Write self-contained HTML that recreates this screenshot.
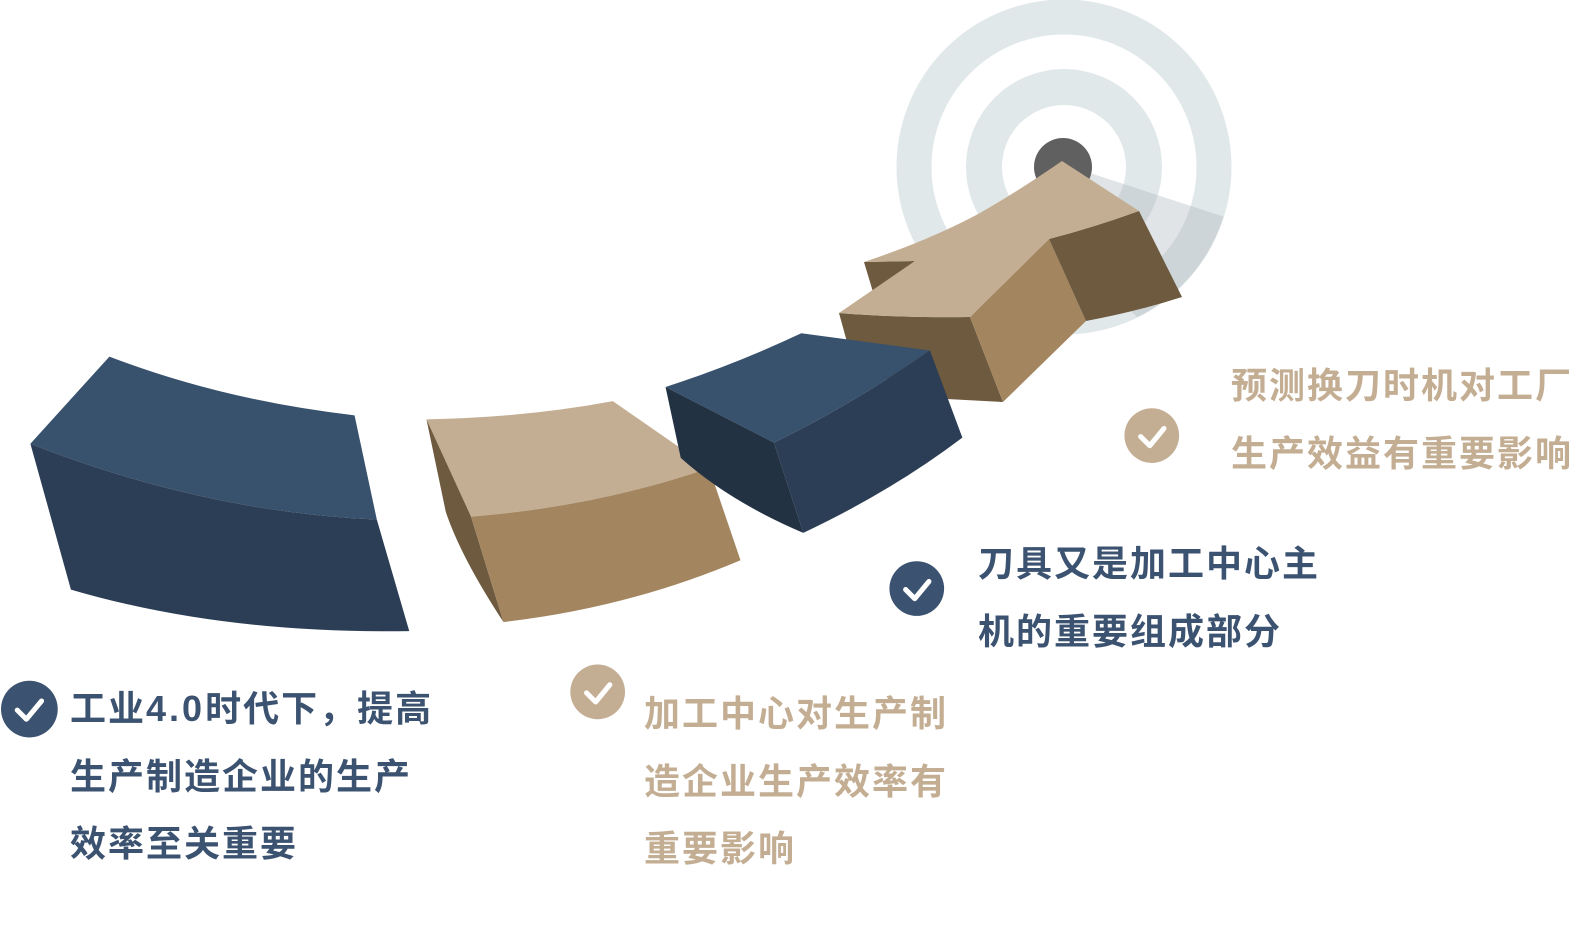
<!DOCTYPE html>
<html><head><meta charset="utf-8">
<style>
html,body{margin:0;padding:0;background:#fff;}
body{width:1587px;height:946px;position:relative;overflow:hidden;}
.t{position:absolute;font-family:"Liberation Sans","Noto Sans CJK SC",sans-serif;font-weight:bold;font-size:36px;line-height:67.5px;letter-spacing:2px;white-space:nowrap;}
.navy{color:#3b5270;}
.tan{color:#c4ae93;}
svg{position:absolute;left:0;top:0;}
</style></head>
<body>
<svg width="1587" height="946">
  <g>
    <circle cx="1064" cy="167" r="150" fill="none" stroke="#e1e8ea" stroke-width="35"/>
    <circle cx="1064" cy="167" r="80" fill="none" stroke="#e1e8ea" stroke-width="36"/>
    <clipPath id="cc"><circle cx="1064" cy="167" r="167"/></clipPath>
    <polygon points="1090,173 1240,222 1230,300 1150,330 1080,260" fill="#aab3b6" opacity="0.35" clip-path="url(#cc)"/>
    <circle cx="1063" cy="167" r="29" fill="#606060"/>
  </g>
  <g transform="scale(1.013)">
  <g>
    <path d="M30,438 L108,352 Q220,395 350,410 L372,513 Q200,505 30,438 Z" fill="#38526e"/>
    <path d="M30,438 Q200,505 372,513 L404,623 Q220,626 70,582 Z" fill="#2c3e55"/>
  </g>
  <g>
    <path d="M421,414 Q520,412 605,396 L700,462 Q590,500 465,510 Z" fill="#c4ae93"/>
    <path d="M421,414 L465,510 L497,614 Q455,550 440,505 Z" fill="#6e5a3f"/>
    <path d="M465,510 Q590,500 700,462 L731,553 Q620,600 497,614 Z" fill="#a3865f"/>
  </g>
  </g>
  <g>
    <polygon points="864,262 915,261 873,292" fill="#6e5a3f"/>
    <path d="M839,313 Q900,318 970,317 L1003,402 L947,399 Q890,395 847,342 Z" fill="#6e5a3f"/>
    <path d="M970,317 L1049,239 L1086,321 L1003,402 Z" fill="#a3865f"/>
    <path d="M1049,239 Q1095,227 1139,211 L1182,297 Q1135,312 1086,321 Z" fill="#6e5a3f"/>
    <path d="M864,262 Q930,240 980,213 Q1020,190 1062,161 L1139,211 Q1095,227 1049,239 L970,317 Q900,318 839,313 L915,261 Z" fill="#c4ae93"/>
  </g>
  <g transform="scale(1.013)">
  <g>
    <path d="M657,382 Q725,360 791,329 L918,346 Q840,400 764,437 Z" fill="#38526e"/>
    <path d="M657,382 L764,437 L793,526 Q720,495 672,452 Z" fill="#233243"/>
    <path d="M764,437 Q840,400 918,346 L950,432 Q880,485 793,526 Z" fill="#2c3e55"/>
  </g>
  <g>
    <circle cx="29" cy="700" r="28" fill="#3b5270"/>
    <polyline points="17,701 26,710 41,692" fill="none" stroke="#fff" stroke-width="5" stroke-linecap="round" stroke-linejoin="round"/>
  </g>
  <g>
    <circle cx="590" cy="683" r="27" fill="#c4ae93"/>
    <polyline points="579,684 588,693 602,676" fill="none" stroke="#fff" stroke-width="5" stroke-linecap="round" stroke-linejoin="round"/>
  </g>
  <g>
    <circle cx="905" cy="581" r="27" fill="#3b5270"/>
    <polyline points="894,582 903,591 917,574" fill="none" stroke="#fff" stroke-width="5" stroke-linecap="round" stroke-linejoin="round"/>
  </g>
  <g>
    <circle cx="1137" cy="430" r="27" fill="#c4ae93"/>
    <polyline points="1126,431 1135,440 1149,423" fill="none" stroke="#fff" stroke-width="5" stroke-linecap="round" stroke-linejoin="round"/>
  </g>
  </g>
</svg>
<div class="t navy" style="left:70px;top:675px;">工业<span style="letter-spacing:3px">4.0</span>时代下，提高<br>生产制造企业的生产<br>效率至关重要</div>
<div class="t tan" style="left:644px;top:680px;">加工中心对生产制<br>造企业生产效率有<br>重要影响</div>
<div class="t navy" style="left:978px;top:530px;">刀具又是加工中心主<br>机的重要组成部分</div>
<div class="t tan" style="left:1231px;top:352px;">预测换刀时机对工厂<br>生产效益有重要影响</div>
</body></html>
